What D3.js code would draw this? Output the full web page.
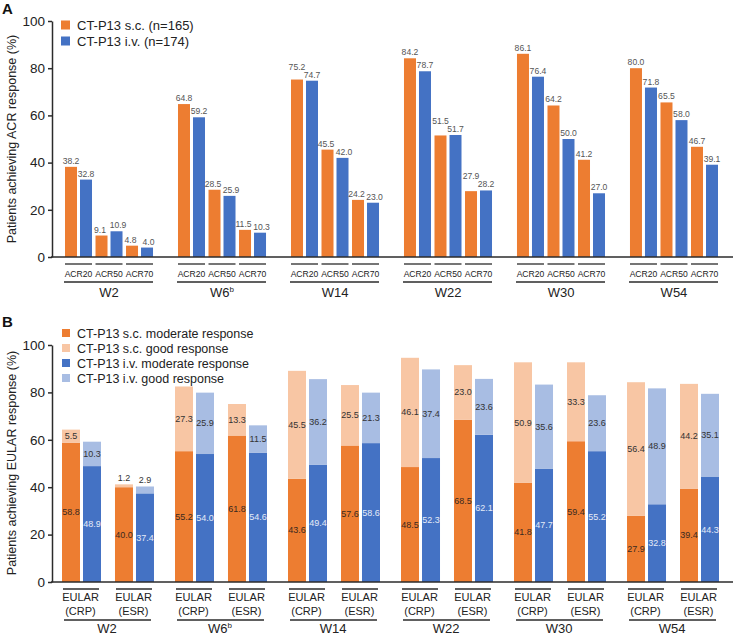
<!DOCTYPE html>
<html><head><meta charset="utf-8">
<script src="https://cdn.jsdelivr.net/npm/d3@7"></script>
<style>body{margin:0;background:#fff}svg{display:block;font-family:"Liberation Sans",Arial,sans-serif}</style>
</head><body><svg id="c" width="737" height="636"></svg>
<script>
// ---------- DATA ----------
const weeks = ["W2","W6","W14","W22","W30","W54"];
const weekSup = ["","b","","","",""];
const acrCats = ["ACR20","ACR50","ACR70"];
const acrSC = [[38.2,9.1,4.8],[64.8,28.5,11.5],[75.2,45.5,24.2],[84.2,51.5,27.9],[86.1,64.2,41.2],[80.0,65.5,46.7]];
const acrIV = [[32.8,10.9,4.0],[59.2,25.9,10.3],[74.7,42.0,23.0],[78.7,51.7,28.2],[76.4,50.0,27.0],[71.8,58.0,39.1]];
const eularCats = ["CRP","ESR"];
const scModerate = [[58.8,40.0],[55.2,61.8],[43.6,57.6],[48.5,68.5],[41.8,59.4],[27.9,39.4]];
const scGood     = [[5.5,1.2],[27.3,13.3],[45.5,25.5],[46.1,23.0],[50.9,33.3],[56.4,44.2]];
const ivModerate = [[48.9,37.4],[54.0,54.6],[49.4,58.6],[52.3,62.1],[47.7,55.2],[32.8,44.3]];
const ivGood     = [[10.3,2.9],[25.9,11.5],[36.2,21.3],[37.4,23.6],[35.6,23.6],[48.9,35.1]];
const yTicks = [0,20,40,60,80,100];
const legendA = ["CT-P13 s.c. (n=165)","CT-P13 i.v. (n=174)"];
const legendB = ["CT-P13 s.c. moderate response","CT-P13 s.c. good response","CT-P13 i.v. moderate response","CT-P13 i.v. good response"];

// ---------- STYLE ----------
const C = {sc:"#ED7D31", iv:"#4472C4", scL:"#F8C6A4", ivL:"#A8BDE3", axis:"#2b2b2b", txt:"#222"};
const svg = d3.select("#c");

function yAxis(y){
  const g = svg.append("g").attr("transform","translate(52,0)")
    .call(d3.axisLeft(y).tickValues(yTicks).tickSize(4).tickSizeOuter(0).tickPadding(3));
  g.select(".domain").attr("stroke",C.axis).attr("stroke-width",1.5);
  g.selectAll(".tick line").attr("stroke",C.axis).attr("stroke-width",1.5);
  g.selectAll(".tick text").attr("font-size",13.5).attr("fill",C.txt).attr("font-family","Liberation Sans, Arial");
}
function xLine(y0){
  svg.append("line").attr("x1",51).attr("x2",733).attr("y1",y0).attr("y2",y0).attr("stroke",C.axis).attr("stroke-width",1.5);
}
function weekLabel(x, y, i){
  const t = svg.append("text").attr("x",x).attr("y",y).attr("text-anchor","middle").attr("font-size",13).attr("fill",C.txt).text(weeks[i]);
  if(weekSup[i]) t.append("tspan").attr("font-size",8).attr("dy",-5).text(weekSup[i]);
}

// ---------- PANEL A ----------
const yA = d3.scaleLinear([0,100],[257,21]);
const xWA = d3.scaleBand(weeks,[65,718]).paddingInner(0.221);
const xSA = d3.scaleBand(acrCats,[0,xWA.bandwidth()]).paddingInner(0.115);
const xRA = d3.scaleBand(["sc","iv"],[0,xSA.bandwidth()]).paddingInner(0.2);

weeks.forEach((w,i)=>{
  const gx = xWA(w);
  acrCats.forEach((c,j)=>{
    const sx = gx + xSA(c);
    const vs = acrSC[i][j], vi = acrIV[i][j];
    let ys = yA(vs)-3, yi = yA(vi)-3, dxs = 0, dxi = 0;
    if (vs <= vi + 0.5 && Math.abs(ys-yi) < 3) ys = yi - 8;
    else if (Math.abs(ys-yi) < 9) { dxs = -1.5; dxi = 1.5; }
    [["sc",vs,ys,dxs],["iv",vi,yi,dxi]].forEach(([s,v,ly,dx])=>{
      const x = sx + xRA(s);
      svg.append("rect").attr("x",x).attr("y",yA(v)).attr("width",xRA.bandwidth()).attr("height",yA(0)-yA(v)).attr("fill",C[s]);
      svg.append("text").attr("x",x+xRA.bandwidth()/2+dx).attr("y",ly).attr("text-anchor","middle")
        .attr("font-size",8.6).attr("fill","#555").text(v.toFixed(1));
    });
    svg.append("line").attr("x1",sx).attr("x2",sx+xSA.bandwidth()).attr("y1",264).attr("y2",264).attr("stroke",C.axis).attr("stroke-width",1.3);
    svg.append("text").attr("x",sx+xSA.bandwidth()/2).attr("y",276.5).attr("text-anchor","middle").attr("font-size",8.6).attr("fill",C.txt).text(c);
  });
  svg.append("line").attr("x1",gx-1).attr("x2",gx+xWA.bandwidth()).attr("y1",282).attr("y2",282).attr("stroke",C.axis).attr("stroke-width",1.3);
  weekLabel(gx+xWA.bandwidth()/2, 297, i);
});
xLine(yA(0));
yAxis(yA);
svg.append("text").attr("transform","translate(16,139) rotate(-90)").attr("text-anchor","middle").attr("font-size",12.5).attr("fill",C.txt).text("Patients achieving ACR response (%)");
svg.append("text").attr("x",2).attr("y",14).attr("font-size",15).attr("font-weight","bold").attr("fill","#111").text("A");
legendA.forEach((t,k)=>{
  const cy = 25 + k*16;
  svg.append("rect").attr("x",61).attr("y",cy-4.5).attr("width",9).attr("height",9).attr("fill",k?C.iv:C.sc);
  svg.append("text").attr("x",77).attr("y",cy+4.5).attr("font-size",13).attr("fill",C.txt).text(t);
});

// ---------- PANEL B ----------
const yB = d3.scaleLinear([0,100],[582,345]);
const xWB = d3.scaleBand(weeks,[62,719]).paddingInner(0.186);
const xSB = d3.scaleBand(eularCats,[0,xWB.bandwidth()]).paddingInner(0.264);
const xRB = d3.scaleBand(["sc","iv"],[0,xSB.bandwidth()]).paddingInner(0.143);

weeks.forEach((w,i)=>{
  const gx = xWB(w);
  eularCats.forEach((c,j)=>{
    const sx = gx + xSB(c);
    [["sc",scModerate[i][j],scGood[i][j]],["iv",ivModerate[i][j],ivGood[i][j]]].forEach(([s,m,g])=>{
      const x = sx + xRB(s), bw = xRB.bandwidth(), cx = x+bw/2;
      svg.append("rect").attr("x",x).attr("y",yB(m)).attr("width",bw).attr("height",yB(0)-yB(m)).attr("fill",C[s]);
      svg.append("rect").attr("x",x).attr("y",yB(m+g)).attr("width",bw).attr("height",yB(m)-yB(m+g)).attr("fill",s==="sc"?C.scL:C.ivL);
      svg.append("text").attr("x",cx).attr("y",yB(m/2)+3).attr("text-anchor","middle").attr("font-size",9)
        .attr("fill",s==="sc"?"#3a2a20":"#e4ebf7").text(m.toFixed(1));
      const small = (yB(m)-yB(m+g))<9;
      svg.append("text").attr("x",cx).attr("y",small? yB(m+g)-3 : yB(m+g/2)+3).attr("text-anchor","middle").attr("font-size",9)
        .attr("fill","#333").text(g.toFixed(1));
    });
    svg.append("line").attr("x1",sx+1).attr("x2",sx+xSB.bandwidth()-2).attr("y1",589).attr("y2",589).attr("stroke",C.axis).attr("stroke-width",1.3);
    svg.append("text").attr("x",sx+xSB.bandwidth()/2-1).attr("y",601).attr("text-anchor","middle").attr("font-size",11).attr("fill",C.txt).text("EULAR");
    svg.append("text").attr("x",sx+xSB.bandwidth()/2-1).attr("y",615).attr("text-anchor","middle").attr("font-size",11).attr("fill",C.txt).text("("+c+")");
  });
  svg.append("line").attr("x1",gx+2).attr("x2",gx+xWB.bandwidth()-3).attr("y1",620).attr("y2",620).attr("stroke",C.axis).attr("stroke-width",1.3);
  weekLabel(gx+xWB.bandwidth()/2-1, 633, i);
});
xLine(yB(0));
yAxis(yB);
svg.append("text").attr("transform","translate(16,463) rotate(-90)").attr("text-anchor","middle").attr("font-size",12.5).attr("fill",C.txt).text("Patients achieving EULAR response (%)");
svg.append("text").attr("x",2).attr("y",327).attr("font-size",15).attr("font-weight","bold").attr("fill","#111").text("B");
const legBCol = [C.sc,C.scL,C.iv,C.ivL];
legendB.forEach((t,k)=>{
  const cy = 333 + k*15;
  svg.append("rect").attr("x",62).attr("y",cy-4).attr("width",8).attr("height",8).attr("fill",legBCol[k]);
  svg.append("text").attr("x",77).attr("y",cy+4.5).attr("font-size",12.5).attr("fill",C.txt).text(t);
});
</script></body></html>
